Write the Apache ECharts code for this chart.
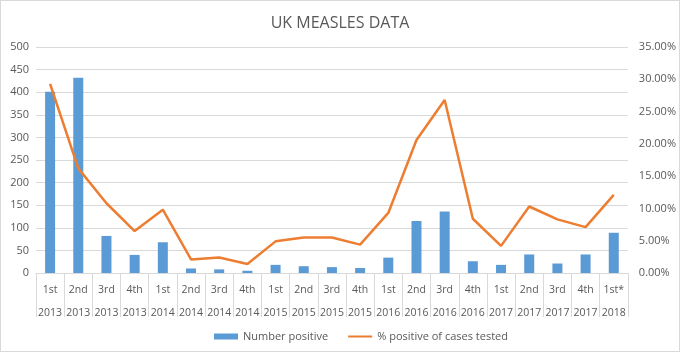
<!DOCTYPE html>
<html>
<head>
<meta charset="utf-8">
<script src="https://cdn.jsdelivr.net/npm/echarts@6/dist/echarts.min.js"></script>
<style>
  html, body { margin: 0; padding: 0; background: #fff; }
  #chart { width: 678px; height: 350px; border: 1px solid #d9d9d9; }
</style>
</head>
<body>
<div id="chart"></div>
<script>
// trimestres et années
const quarters = ['1st','2nd','3rd','4th','1st','2nd','3rd','4th','1st','2nd','3rd','4th',
                  '1st','2nd','3rd','4th','1st','2nd','3rd','4th','1st*'];
const years = ['2013','2013','2013','2013','2014','2014','2014','2014','2015','2015','2015','2015',
               '2016','2016','2016','2016','2017','2017','2017','2017','2018'];
const numberPositive = [401, 432, 82, 40, 68, 10, 8, 5, 18, 15, 13, 11,
                        34, 115, 136, 26, 18, 41, 21, 41, 89];
const pctPositive = [29.3, 16.2, 10.8, 6.5, 9.8, 2.1, 2.4, 1.4, 4.9, 5.5, 5.5, 4.4,
                     9.3, 20.6, 26.8, 8.4, 4.2, 10.3, 8.3, 7.1, 12.1];

const categories = quarters.map((q, i) => q + '\n' + years[i]);
const txt = '#595959';
const grey = '#d9d9d9';

const chart = echarts.init(document.getElementById('chart'));
chart.setOption({
  animation: false,
  textStyle: { fontFamily: 'Open Sans, Liberation Sans, sans-serif' },
  title: {
    text: 'UK MEASLES DATA',
    left: 'center',
    top: 9,
    textStyle: { color: txt, fontSize: 16, fontWeight: 'normal' }
  },
  legend: {
    top: 325,
    left: 208,
    itemGap: 20,
    itemWidth: 24,
    itemHeight: 6,
    textStyle: { color: txt, fontSize: 11 },
    data: [
      { name: 'Number positive', icon: 'rect' },
      { name: '% positive of cases tested', icon: 'path://M0,0 L24,0 L24,2 L0,2 Z' }
    ]
  },
  grid: { left: 35, right: 51, top: 46, bottom: 78 },
  xAxis: {
    type: 'category',
    data: categories,
    axisLine: { lineStyle: { color: grey } },
    axisTick: { show: true, length: 44, lineStyle: { color: grey } },
    axisLabel: { color: txt, fontSize: 10.5, lineHeight: 23, margin: 6, interval: 0 }
  },
  yAxis: [
    {
      type: 'value', min: 0, max: 500, interval: 50,
      axisLine: { show: false }, axisTick: { show: false },
      splitLine: { lineStyle: { color: grey } },
      axisLabel: { color: txt, fontSize: 11, margin: 7 }
    },
    {
      type: 'value', min: 0, max: 35, interval: 5,
      axisLine: { show: false }, axisTick: { show: false },
      splitLine: { show: false },
      axisLabel: { color: txt, fontSize: 11, margin: 11, formatter: v => v.toFixed(2) + '%' }
    }
  ],
  series: [
    {
      name: 'Number positive',
      type: 'bar',
      data: numberPositive,
      barWidth: 10,
      itemStyle: { color: '#5B9BD5' }
    },
    {
      name: '% positive of cases tested',
      type: 'line',
      yAxisIndex: 1,
      data: pctPositive,
      symbol: 'none',
      lineStyle: { color: '#ED7D31', width: 2.5 },
      itemStyle: { color: '#ED7D31' }
    }
  ]
});
</script>
</body>
</html>
